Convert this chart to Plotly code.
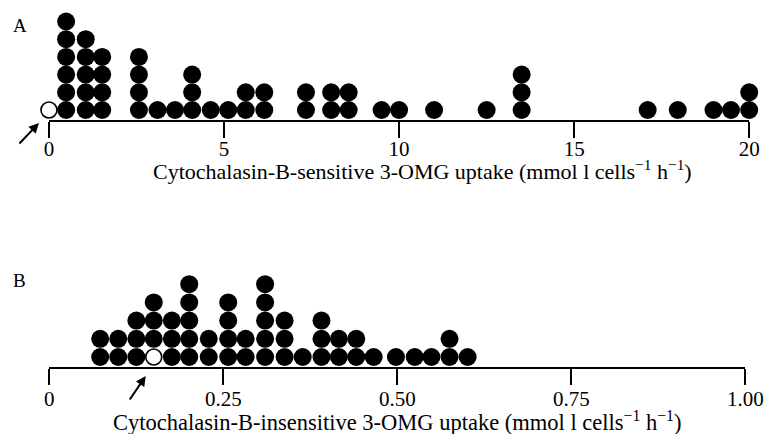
import plotly.graph_objects as go

# Panel A: cytochalasin-B-sensitive 3-OMG uptake (mmol l cells^-1 h^-1)
sens_values = [0.49, 1.05, 1.52, 2.57, 3.10, 3.60, 4.09, 4.62, 5.12, 5.62, 6.15,
               7.34, 8.06, 8.56, 9.50, 10.0, 11.0, 12.5, 13.5, 17.1, 17.96,
               18.98, 19.48, 20.0]
sens_counts = [6, 5, 4, 4, 1, 1, 3, 1, 1, 2, 2,
               2, 2, 2, 1, 1, 1, 1, 3, 1, 1,
               1, 1, 2]
sens_open = 0.0  # highlighted subject (open circle)

# Panel B: cytochalasin-B-insensitive 3-OMG uptake
insens_values = [0.073, 0.099, 0.125, 0.150, 0.176, 0.201, 0.229, 0.257, 0.282,
                 0.310, 0.338, 0.364, 0.391, 0.416, 0.441, 0.466, 0.498, 0.525,
                 0.549, 0.575, 0.601]
insens_counts = [2, 2, 3, 4, 3, 5, 2, 4, 2,
                 5, 3, 1, 3, 2, 2, 1, 1, 1,
                 1, 2, 1]
insens_open = 0.150  # highlighted subject sits at the bottom of its column

ticks_a = [0, 5, 10, 15, 20]
ticklabels_a = ["0", "5", "10", "15", "20"]
ticks_b = [0, 0.25, 0.50, 0.75, 1.00]
ticklabels_b = ["0", "0.25", "0.50", "0.75", "1.00"]

title_a = "Cytochalasin-B-sensitive 3-OMG uptake (mmol l cells<sup>−1</sup> h<sup>−1</sup>)"
title_b = "Cytochalasin-B-insensitive 3-OMG uptake (mmol l cells<sup>−1</sup> h<sup>−1</sup>)"

W, H = 784, 434
FONT = "Liberation Serif"


def stack(values, counts, open_value=None):
    """Expand column values/counts into stacked dot coordinates."""
    fx, fy, ox, oy = [], [], [], []
    for v, n in zip(values, counts):
        for k in range(n):
            if open_value is not None and abs(v - open_value) < 1e-9 and k == 0:
                ox.append(v)
                oy.append(k)
            else:
                fx.append(v)
                fy.append(k)
    return fx, fy, ox, oy


fig = go.Figure()

ax_, ay_, _, _ = stack(sens_values, sens_counts)
fig.add_trace(go.Scatter(x=ax_, y=ay_, mode="markers", xaxis="x", yaxis="y",
                         marker=dict(size=18, color="black", line=dict(width=0)),
                         cliponaxis=False, showlegend=False, hoverinfo="x"))
fig.add_trace(go.Scatter(x=[sens_open], y=[0], mode="markers", xaxis="x", yaxis="y",
                         marker=dict(size=16, color="white", line=dict(width=1.6, color="black")),
                         cliponaxis=False, showlegend=False, hoverinfo="x"))

bx, by, box_, boy = stack(insens_values, insens_counts, insens_open)
fig.add_trace(go.Scatter(x=bx, y=by, mode="markers", xaxis="x2", yaxis="y2",
                         marker=dict(size=18, color="black", line=dict(width=0)),
                         cliponaxis=False, showlegend=False, hoverinfo="x"))
fig.add_trace(go.Scatter(x=box_, y=boy, mode="markers", xaxis="x2", yaxis="y2",
                         marker=dict(size=16, color="white", line=dict(width=1.6, color="black")),
                         cliponaxis=False, showlegend=False, hoverinfo="x"))

# pixel geometry of the two panels
a_left, a_right, a_base, a_step = 45.3, 766.7, 119.5, 17.7
b_left, b_right, b_base, b_step = 45.7, 762.7, 367.0, 18.2
a_top, b_top = 0.0, 250.0

common_x = dict(showline=True, linecolor="black", linewidth=2, ticks="outside",
                ticklen=16, tickwidth=2, tickcolor="black", showgrid=False,
                zeroline=False, tickfont=dict(family=FONT, size=21, color="black"),
                fixedrange=True)

fig.update_layout(
    width=W, height=H, margin=dict(l=0, r=0, t=0, b=0),
    paper_bgcolor="white", plot_bgcolor="white",
    xaxis=dict(domain=[a_left / W, a_right / W], range=[0, 20], anchor="y",
               tickvals=ticks_a, ticktext=ticklabels_a, ticklabelstandoff=-7,
               **common_x),
    yaxis=dict(domain=[1 - a_base / H, 1 - a_top / H],
               range=[-(a_base - 110) / a_step, -(a_base - 110) / a_step + (a_base - a_top) / a_step],
               visible=False, fixedrange=True),
    xaxis2=dict(domain=[b_left / W, b_right / W], range=[0, 1], anchor="y2",
                tickvals=ticks_b, ticktext=ticklabels_b, ticklabelstandoff=-4,
                **common_x),
    yaxis2=dict(domain=[1 - b_base / H, 1 - b_top / H],
                range=[-(b_base - 357) / b_step, -(b_base - 357) / b_step + (b_base - b_top) / b_step],
                visible=False, fixedrange=True),
)

# axis titles
fig.add_annotation(text=title_a, x=430 / W, y=1 - 170 / H, xref="paper", yref="paper",
                   xanchor="center", yanchor="middle", showarrow=False,
                   font=dict(family=FONT, size=22, color="black"))
fig.add_annotation(text=title_b, x=404 / W, y=1 - 421 / H, xref="paper", yref="paper",
                   xanchor="center", yanchor="middle", showarrow=False,
                   font=dict(family=FONT, size=22.5, color="black"))

# panel letters
fig.add_annotation(text="A", x=15 / W, y=1 - 26 / H, xref="paper", yref="paper",
                   xanchor="center", yanchor="middle", showarrow=False,
                   font=dict(family=FONT, size=19, color="black"))
fig.add_annotation(text="B", x=15 / W, y=1 - 280 / H, xref="paper", yref="paper",
                   xanchor="center", yanchor="middle", showarrow=False,
                   font=dict(family=FONT, size=19, color="black"))

# arrows pointing at the highlighted subject
fig.add_annotation(x=35 / W, y=1 - 123 / H, xref="paper", yref="paper", text="",
                   showarrow=True, ax=-21, ay=22, arrowhead=2, arrowsize=1,
                   arrowwidth=2, arrowcolor="black")
fig.add_annotation(x=145 / W, y=1 - 376 / H, xref="paper", yref="paper", text="",
                   showarrow=True, ax=-17, ay=25, arrowhead=2, arrowsize=1,
                   arrowwidth=2, arrowcolor="black")

fig.write_html("out.html")
